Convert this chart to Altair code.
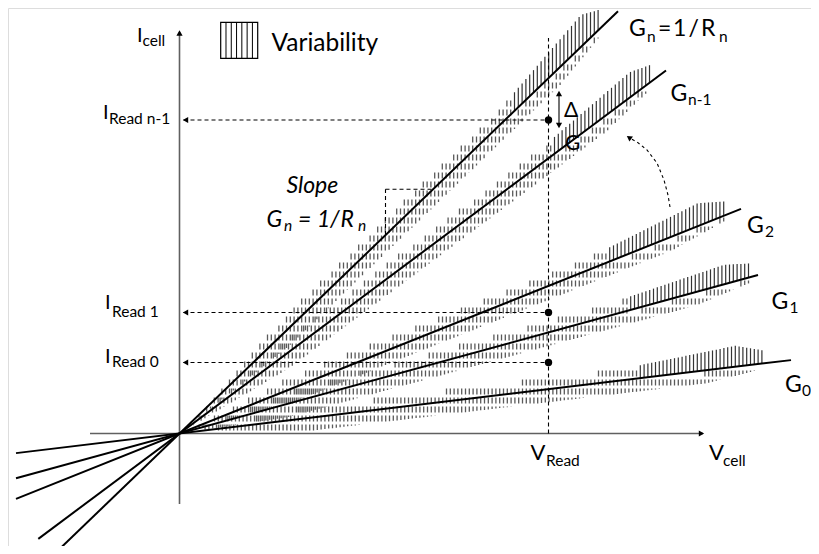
import numpy as np
import pandas as pd
import altair as alt

# ---- data (arbitrary units: 1 unit ~ 1 px, origin at the I-V origin) ----
names = ["G_n", "G_n-1", "G_2", "G_1", "G_0"]
slopes = [0.963, 0.746, 0.400, 0.274, 0.120]
line_left = [-126.5, -141.2, -163.5, -163.5, -163.5]
line_right = [438.5, 486.5, 561.5, 578.5, 611.5]
band_start = [12, 14, 16, 18, 20]
band_end = [422, 473, 545, 572, 584]
band_half = [18, 16.5, 14, 13.5, 13]
band_cap = [14, 9, 9, 6, 8]

v_read = 369
i_read_vals = [313.5, 121, 71]
i_read_names = ["Read n-1", "Read 1", "Read 0"]

x_axis = [-89.5, 526.5]
y_axis = [-70.5, 404.5]

FONT = "Lato"

W, H = 803, 538
XS = alt.Scale(domain=[8 - 179.5, 8 + W - 179.5], nice=False, zero=False)
YS = alt.Scale(domain=[433.5 - 8 - H, 433.5 - 8], nice=False, zero=False)


def X(f="x"):
    return alt.X(f"{f}:Q", scale=XS, axis=None)


def Y(f="y"):
    return alt.Y(f"{f}:Q", scale=YS, axis=None)


# ---- hatch (variability bands) ----
dash_rows, solid_rows = [], []
for s, a, b, h0, cap in zip(slopes, band_start, band_end, band_half, band_cap):
    for xk in np.arange(a, b, 3.8):
        t = (xk - a) / (b - a)
        h = h0 * min(1.0, xk / 110.0)
        yc = s * xk
        if t < 0.78:
            top, bot = yc + h, yc - h
            top = np.floor(top / 9.0) * 9.0
            if top > bot:
                dash_rows.append(dict(x=xk, y=top, y2=bot))
        else:
            if t < 0.95:
                c = cap * (t - 0.78) / 0.17
            else:
                c = cap * (1 - t) / 0.05
            top = yc + h + c
            solid_rows.append(dict(x=xk, y=top, y2=yc))
            bot = yc - h * (1 - 0.6 * max(0.0, (t - 0.9) / 0.1))
            ds = np.floor(yc / 9.0) * 9.0
            if ds > bot:
                dash_rows.append(dict(x=xk, y=ds, y2=bot))

hatch_dash = alt.Chart(pd.DataFrame(dash_rows)).mark_rule(
    color="#5a5a5a", strokeWidth=1.3, strokeDash=[6, 3]
).encode(x=X(), y=Y(), y2="y2:Q")
hatch_solid = alt.Chart(pd.DataFrame(solid_rows)).mark_rule(
    color="#333", strokeWidth=1.2
).encode(x=X(), y=Y(), y2="y2:Q")

# ---- conductance lines ----
ln = pd.DataFrame(
    dict(
        x=line_left, y=[s * v for s, v in zip(slopes, line_left)],
        x2=line_right, y2=[s * v for s, v in zip(slopes, line_right)],
    )
)
lines = alt.Chart(ln).mark_rule(color="black", strokeWidth=2).encode(
    x=X(), y=Y(), x2="x2:Q", y2="y2:Q"
)

# ---- axes ----
axes_df = pd.DataFrame(
    dict(x=[x_axis[0], 0], y=[0, y_axis[0]], x2=[x_axis[1] - 3, 0], y2=[0, y_axis[1] - 3])
)
axes = alt.Chart(axes_df).mark_rule(color="#606060", strokeWidth=1.6).encode(
    x=X(), y=Y(), x2="x2:Q", y2="y2:Q"
)

# ---- guide dashed lines ----
guides_df = pd.DataFrame(
    dict(
        x=[4] * 3 + [v_read, 206, 206],
        y=i_read_vals + [0, 198.5, 244.2],
        x2=[v_read] * 3 + [v_read, 206, 253.5],
        y2=i_read_vals + [395.5, 244.2, 244.2],
    )
)
guides = alt.Chart(guides_df).mark_rule(
    color="black", strokeWidth=1.1, strokeDash=[4, 3]
).encode(x=X(), y=Y(), x2="x2:Q", y2="y2:Q")

# delta arrow
delta_df = pd.DataFrame(dict(x=[379.5], y=[340], y2=[309]))
delta = alt.Chart(delta_df).mark_rule(color="black", strokeWidth=1.1).encode(
    x=X(), y=Y(), y2="y2:Q"
)

# curved dashed arrow
curve_x = [490.5, 488.5, 484.5, 477.5, 467.5, 457.5, 451]
curve_y = [226.5, 238.5, 253.5, 270.5, 283.5, 291.5, 295]
curve = alt.Chart(
    pd.DataFrame(dict(x=curve_x, y=curve_y, i=range(len(curve_x))))
).mark_line(color="black", strokeWidth=1.1, strokeDash=[3, 3]).encode(
    x=X(), y=Y(), order="i:Q"
)

# ---- arrowheads ----
heads_df = pd.DataFrame(
    dict(
        x=[0, 522, 6, 6, 6, 379.5, 379.5, 449.5],
        y=[400.5, 0] + i_read_vals + [340, 308, 296],
        ang=[0, 90, 270, 270, 270, 0, 180, 305],
    )
)
heads = alt.Chart(heads_df).mark_point(
    shape="triangle-up", filled=True, color="black", size=38, opacity=1
).encode(x=X(), y=Y(), angle=alt.Angle("ang:Q", scale=None))

# read dots
dots = alt.Chart(
    pd.DataFrame(dict(x=[v_read] * 3, y=i_read_vals))
).mark_point(shape="circle", filled=True, color="black", size=55, opacity=1).encode(
    x=X(), y=Y()
)

# ---- legend box ----
box = alt.Chart(pd.DataFrame(dict(x=[41.2], x2=[78.2], y=[375.2], y2=[411.2]))).mark_rect(
    fill="white", stroke="black", strokeWidth=1.2
).encode(x=X(), x2="x2:Q", y=Y(), y2="y2:Q")
box_lines = alt.Chart(
    pd.DataFrame(dict(x=[41.2 + k * 37 / 7 for k in range(1, 7)], y=[375.2] * 6, y2=[411.2] * 6))
).mark_rule(color="black", strokeWidth=1).encode(x=X(), y=Y(), y2="y2:Q")

# ---- texts (page-pixel anchors converted to data units) ----
def T(px, py, text, size, style="normal"):
    return dict(x=px - 179.5, y=433.5 - py, text=text, size=size, style=style)

texts = [
    T(137, 41.5, "I", 20), T(142.5, 45.5, "cell", 15.5),
    T(271.5, 50.5, "Variability", 24.5),
    T(103, 118.5, "I", 20), T(109, 123.5, "Read n-1", 15.5),
    T(105, 309, "I", 20), T(112, 317, "Read 1", 15.5),
    T(105, 363, "I", 20), T(112, 367, "Read 0", 15.5),
    T(530.5, 460, "V", 22), T(546, 465.5, "Read", 15.5),
    T(709, 460, "V", 22), T(723, 465.5, "cell", 15.5),
    T(629, 36, "G", 23), T(647, 41.5, "n", 15.5), T(658, 36, "=", 23),
    T(673, 36, "1", 23), T(688.5, 36, "/", 23), T(701, 36, "R", 23), T(719, 41.5, "n", 15.5),
    T(670.5, 100.5, "G", 23), T(688, 104.5, "n-1", 15.5),
    T(747, 232.5, "G", 23), T(765, 236.5, "2", 15.5),
    T(771.5, 308.5, "G", 23), T(789.5, 312.5, "1", 15.5),
    T(785, 391.5, "G", 23), T(802, 395.5, "0", 15.5),
    T(564, 117, "Δ", 21),
    T(565, 150, "G", 21),
    T(286.5, 193, "Slope", 23, "italic"),
    T(266.5, 227, "G", 23, "italic"), T(284, 231, "n", 15.5, "italic"),
    T(298, 227, "=", 23, "italic"),
    T(317, 227, "1", 23, "italic"), T(330, 227, "/", 23, "italic"), T(340.5, 227, "R", 23, "italic"),
    T(358, 231, "n", 15.5, "italic"),
]
tdf = pd.DataFrame(texts)

txt_n = alt.Chart(tdf[tdf["style"] == "normal"]).mark_text(
    align="left", baseline="alphabetic", font=FONT, color="black"
).encode(x=X(), y=Y(), text="text:N", size=alt.Size("size:Q", scale=None))
txt_i = alt.Chart(tdf[tdf["style"] == "italic"]).mark_text(
    align="left", baseline="alphabetic", font=FONT, fontStyle="italic", color="black"
).encode(x=X(), y=Y(), text="text:N", size=alt.Size("size:Q", scale=None))

chart = alt.layer(
    hatch_dash, hatch_solid, axes, guides, delta, curve, lines, heads, dots,
    box, box_lines, txt_n, txt_i,
).properties(
    width=W, height=H, padding=0, autosize=alt.AutoSizeParams(type="none")
).configure_view(stroke=None).configure(background="white")

chart.save("out.html", embed_options={"renderer": "svg", "actions": False})
